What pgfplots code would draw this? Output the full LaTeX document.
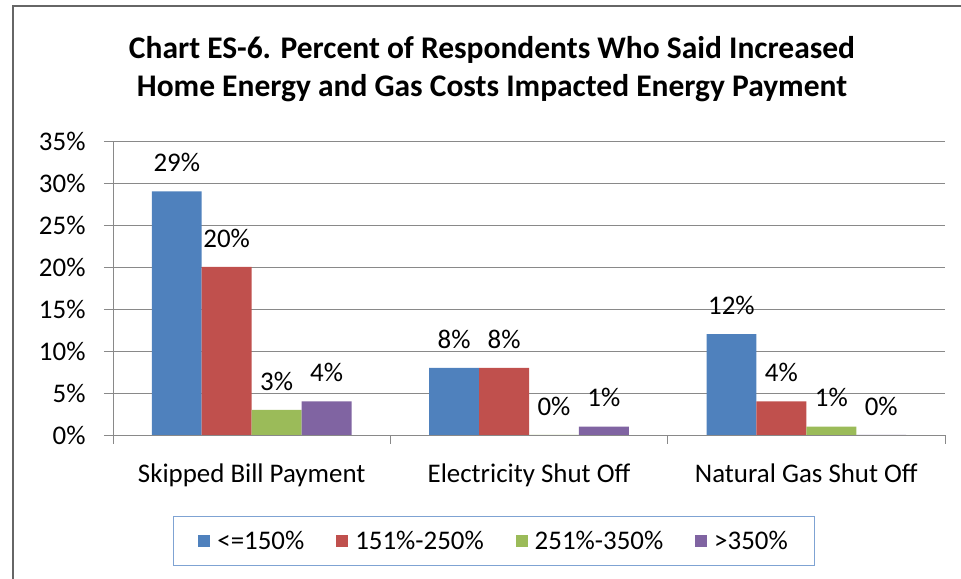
\documentclass[border=0pt]{standalone}
\usepackage{pgfplots}
\pgfplotsset{compat=1.18}
\usepackage{fontspec}
\setmainfont{Carlito}
\definecolor{cblue}{HTML}{4F81BD}
\definecolor{cred}{HTML}{C0504D}
\definecolor{cgreen}{HTML}{9BBB59}
\definecolor{cpurple}{HTML}{8064A2}
\definecolor{gridc}{HTML}{898989}
\definecolor{legc}{HTML}{7FA3D3}
\begin{document}
\begin{tikzpicture}[x=1bp,y=1bp]
\useasboundingbox (0,0) rectangle (961,579);
\draw[gray!80!black, line width=1.6bp] (13,-5) -- (13,573) -- (966,573);
\node[font=\bfseries\fontsize{31.6}{38}\selectfont, align=center] at (492,510)
  {Chart ES-6. Percent of Respondents Who Said Increased\\Home Energy and Gas Costs Impacted Energy Payment};
\begin{axis}[
  at={(113bp,144bp)}, anchor=south west,
  scale only axis, width=832bp, height=294bp,
  ybar=0pt, bar width=0.18,
  xmin=-0.5, xmax=2.5, ymin=0, ymax=35,
  axis x line*=bottom, axis y line*=left,
  axis line style={gridc, line width=0.8bp, -},
  xtick={0,1,2},
  xticklabels={Skipped Bill Payment, Electricity Shut Off, Natural Gas Shut Off},
  major x tick style={draw=none},
  minor xtick={-0.5,0.5,1.5,2.5},
  minor x tick style={gridc, line width=0.8bp},
  minor tick length=9bp,
  ytick={0,5,...,35},
  yticklabels={0\%,5\%,10\%,15\%,20\%,25\%,30\%,35\%},
  major y tick style={gridc, line width=0.8bp},
  major tick length=9bp,
  tick align=outside,
  ymajorgrids, grid style={gridc, line width=0.8bp},
  tick label style={font=\fontsize{27}{32}\selectfont},
  xticklabel style={yshift=-16bp},
  yticklabel style={xshift=-15bp},
  /pgf/number format/assume math mode=true,
  nodes near coords={\pgfmathprintnumber{\pgfplotspointmeta}\%},
  every node near coord/.append style={font=\fontsize{27}{32}\selectfont, black, yshift=16bp},
  legend columns=4,
  legend style={at={(0.458,-0.360)}, anchor=center, draw=legc, line width=0.8bp,
    font=\fontsize{27}{32}\selectfont, inner xsep=25bp, inner ysep=13bp,
    /tikz/every even column/.append style={column sep=30bp},
    /tikz/every odd column/.append style={column sep=5bp}},
  legend image code/.code={\fill[#1] (0bp,-6bp) rectangle (12bp,6bp);},
]
\addplot[fill=cblue, draw=none] coordinates {(0,29) (1,8) (2,12)};
\addplot[fill=cred, draw=none] coordinates {(0,20) (1,8) (2,4)};
\addplot[fill=cgreen, draw=none] coordinates {(0,3) (1,0) (2,1)};
\addplot[fill=cpurple, draw=none] coordinates {(0,4) (1,1) (2,0)};
\legend{<=150\%, 151\%-250\%, 251\%-350\%, >350\%}
\end{axis}
\end{tikzpicture}
\end{document}
